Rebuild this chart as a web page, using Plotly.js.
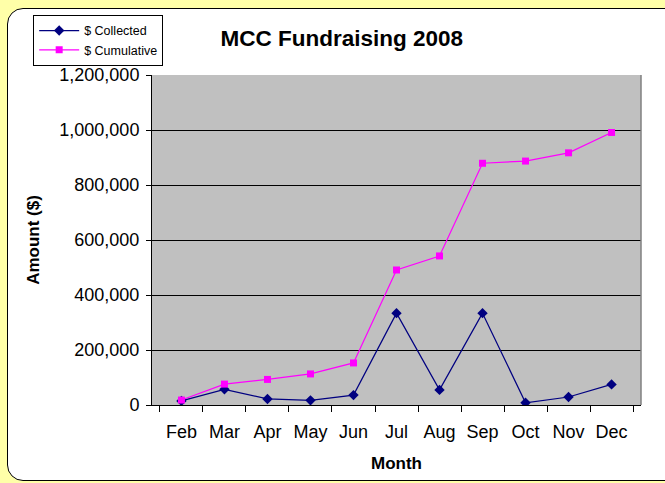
<!DOCTYPE html>
<html><head><meta charset="utf-8">
<script src="https://cdn.plot.ly/plotly-3.0.1.min.js"></script>
<style>
html,body{margin:0;padding:0;background:#FFFFA8;width:665px;height:483px;overflow:hidden;}
#frame{position:absolute;left:7px;top:8px;width:700px;height:471px;background:#fff;border:1.5px solid #000;border-radius:16px;}
#chart{position:absolute;left:0;top:0;width:665px;height:483px;}
</style></head>
<body>
<div id="frame"></div>
<div id="chart"></div>
<script>
const months = ["Feb","Mar","Apr","May","Jun","Jul","Aug","Sep","Oct","Nov","Dec"];
const collected = [15000, 57000, 22000, 17000, 36000, 334000, 55000, 334000, 8000, 29000, 75000];
const cumulative = [18000, 76000, 93000, 113000, 153000, 491000, 542000, 879000, 887000, 917000, 991000];
const yTicks = [0, 200000, 400000, 600000, 800000, 1000000, 1200000];

const font = "Liberation Sans, Arial, sans-serif";
const traces = [
  {x: months, y: collected, name: "$ Collected", mode: "lines+markers", type: "scatter",
   line: {color: "#000080", width: 1.2}, marker: {symbol: "diamond", size: 8, color: "#000080"}},
  {x: months, y: cumulative, name: "$ Cumulative", mode: "lines+markers", type: "scatter",
   line: {color: "#FF00FF", width: 1.2}, marker: {symbol: "square", size: 7, color: "#FF00FF"}}
];
const layout = {
  width: 665, height: 483,
  paper_bgcolor: "rgba(0,0,0,0)", plot_bgcolor: "#C0C0C0",
  margin: {l: 152, r: 24, t: 75, b: 78},
  font: {family: font, color: "#000"},
  title: {text: "<b>MCC Fundraising 2008</b>", font: {size: 22.5, family: font, color: "#000"},
          x: 0.514, xref: "container", y: 0.921, yref: "container", xanchor: "center", yanchor: "middle"},
  xaxis: {type: "category", tickson: "boundaries", ticks: "outside", ticklen: 6, tickcolor: "#000",
          showline: true, linecolor: "#000", linewidth: 1, showgrid: false, zeroline: false,
          tickfont: {size: 18, family: font}, ticklabelstandoff: 10,
          title: {text: "<b>Month</b>", font: {size: 17, family: font}, standoff: 16}},
  yaxis: {range: [0, 1200000], tickvals: yTicks, tickformat: ",", ticks: "outside", ticklen: 5, tickcolor: "#000",
          showline: true, linecolor: "#000", linewidth: 1, showgrid: true, gridcolor: "#000", gridwidth: 1,
          zeroline: false, tickfont: {size: 18, family: font}, ticklabelstandoff: 3,
          title: {text: "<b>Amount ($)</b>", font: {size: 17, family: font}, standoff: 15}},
  legend: {x: -0.243, xanchor: "left", y: 1.182, yanchor: "top", bgcolor: "#fff", bordercolor: "#000", borderwidth: 1,
           font: {size: 12.5, family: font}, tracegroupgap: 0, itemwidth: 40},
  shapes: [{type: "line", xref: "paper", yref: "paper", x0: 1, x1: 1, y0: 0, y1: 1, line: {color: "#808080", width: 1.5}}],
  showlegend: true
};
Plotly.newPlot("chart", traces, layout, {displayModeBar: false, staticPlot: true});
</script>
</body></html>
